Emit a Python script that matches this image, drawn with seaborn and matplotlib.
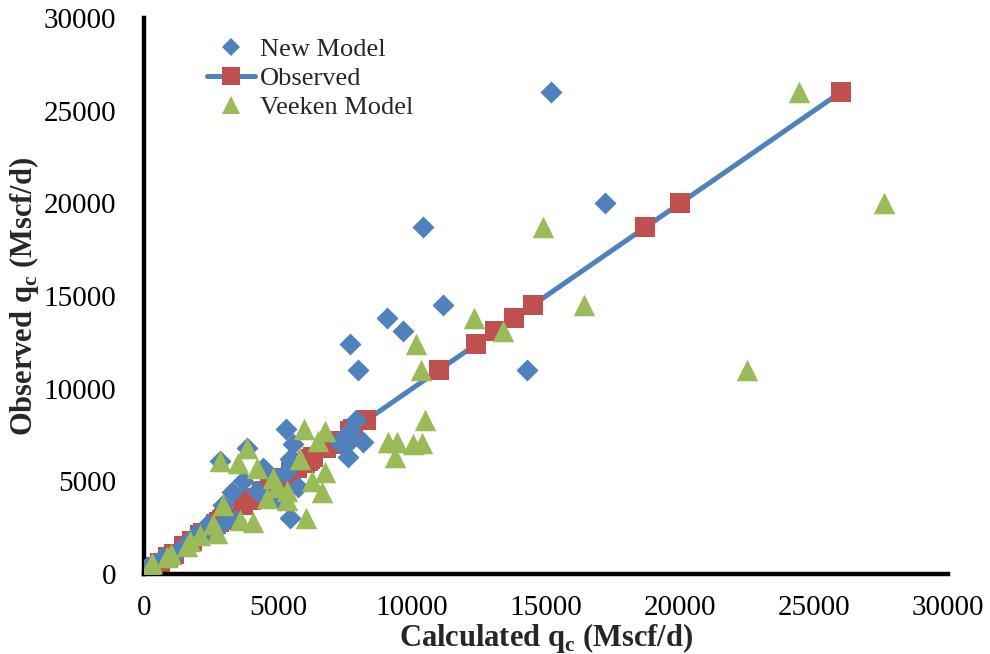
import matplotlib
matplotlib.use("Agg")
import matplotlib.pyplot as plt
from matplotlib.lines import Line2D
import seaborn as sns
import pandas as pd

# Observed gas rates (Mscf/d) and the two model predictions for the same wells
observed = [26000, 20000, 18700, 14500, 13800, 13100, 12400, 11000, 11000, 8300,
            7800, 7700, 7200, 7100, 7100, 7050, 7000, 6800, 6300, 6200, 6100, 6000,
            5700, 5500, 5200, 5000, 4700, 4500, 4400, 4100, 4000, 3700, 3000, 2900,
            2800, 2700, 2200, 2100, 1800, 1500, 1100, 900, 600, 400]
new_model = [15200, 17200, 10400, 11150, 9050, 9650, 7700, 14300, 8000, 7900,
             5300, 7700, 7687, 7288, 8183, 7500, 5570, 3830, 7623, 5450, 2840, 5600,
             4450, 5300, 4900, 3700, 5760, 4200, 3300, 4580, 5070, 2960, 5450, 3400,
             3000, 2400, 2340, 1900, 1700, 1500, 1160, 700, 400, 100]
veeken_model = [24450, 27600, 14900, 16400, 12300, 13400, 10150, 22500, 10350, 10500,
                5950, 6750, 6500, 9116, 9425, 10355, 10045, 3855, 9365, 5820, 2836, 3520,
                4230, 6750, 4830, 6260, 4950, 5320, 6630, 4580, 5320, 2960, 6060, 3580,
                4080, 2580, 2710, 2090, 1720, 1590, 1000, 850, 300, 290]

ticks = [0, 5000, 10000, 15000, 20000, 25000, 30000]

BLUE = "#4F81BD"
RED = "#C0504D"
GREEN = "#9BBB59"

df = pd.DataFrame({"obs": observed, "new": new_model, "veeken": veeken_model})

sns.set_theme(style="white")
plt.rcParams["font.family"] = ["Liberation Serif", "DejaVu Serif"]
plt.rcParams["mathtext.fontset"] = "custom"
plt.rcParams["mathtext.rm"] = "Liberation Serif:bold"
plt.rcParams["mathtext.bf"] = "Liberation Serif:bold"

fig = plt.figure(figsize=(9.9, 6.54), dpi=100)
ax = fig.add_axes([0.1455, 0.1223, 0.8121, 0.8502])

# 1:1 observed line with square markers
sns.lineplot(data=df, x="obs", y="obs", ax=ax, estimator=None, sort=True,
             color=BLUE, linewidth=3.6, marker="s", markersize=15,
             markerfacecolor=RED, markeredgecolor=RED, markeredgewidth=0,
             zorder=2)
# Model predictions
sns.scatterplot(data=df, x="new", y="obs", ax=ax, marker="D", s=11.2 ** 2,
                color=BLUE, linewidth=0, zorder=3)
sns.scatterplot(data=df, x="veeken", y="obs", ax=ax, marker="^", s=15.5 ** 2,
                color=GREEN, linewidth=0, zorder=4)

ax.set_xlim(0, 30000)
ax.set_ylim(0, 30000)
ax.set_xticks(ticks)
ax.set_yticks(ticks)
ax.set_xticklabels([str(t) for t in ticks])
ax.set_yticklabels([str(t) for t in ticks])
ax.tick_params(axis="both", direction="out", length=6, width=3, color="black",
               labelsize=21, labelcolor="black")
ax.tick_params(axis="x", pad=9)
ax.tick_params(axis="y", pad=14)

for side in ["left", "bottom"]:
    ax.spines[side].set_linewidth(3.2)
    ax.spines[side].set_color("black")
for side in ["top", "right"]:
    ax.spines[side].set_visible(False)

ax.set_xlabel(r"Calculated q$_\mathregular{c}$ (Mscf/d)", fontsize=22,
              fontweight="bold", labelpad=0)
ax.set_ylabel(r"Observed q$_\mathregular{c}$ (Mscf/d)", fontsize=22,
              fontweight="bold", labelpad=2)

handles = [
    Line2D([], [], linestyle="none", marker="D", markersize=9.5, color=BLUE,
           markeredgewidth=0),
    Line2D([], [], color=BLUE, linewidth=3.6, marker="s", markersize=13.5,
           markerfacecolor=RED, markeredgecolor=RED, markeredgewidth=0),
    Line2D([], [], linestyle="none", marker="^", markersize=12.5, color=GREEN,
           markeredgewidth=0),
]
ax.legend(handles, ["New Model", "Observed", "Veeken Model"], loc="upper left",
          bbox_to_anchor=(0.062, 0.988), frameon=False, fontsize=19,
          handlelength=1.8, handletextpad=0.2, labelspacing=0.2, borderpad=0)

fig.savefig("out.png", dpi=100)
